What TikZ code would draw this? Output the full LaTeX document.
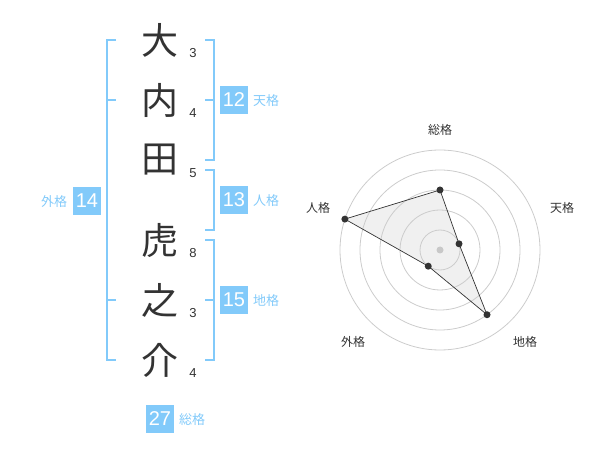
\documentclass[tikz,border=0pt]{standalone}
\usepackage{fontspec}
\setmainfont{Liberation Sans}
\newfontfamily\jp{Noto Sans CJK JP}
\usetikzlibrary{calc}
\definecolor{ink}{HTML}{333333}
\definecolor{sky}{HTML}{82CAFA}
\definecolor{ring}{HTML}{CCCCCC}
\definecolor{area}{HTML}{F0F0F0}
\definecolor{hub}{HTML}{C8C8C8}
\tikzset{
  brk/.style={draw=sky, line width=2pt},
  kanji/.style={text=ink, inner sep=0pt, font=\jp\fontsize{37}{40}\selectfont},
  strokes/.style={text=ink, inner sep=0pt, font=\fontsize{13}{15}\selectfont},
  score/.style={fill=sky, text=white, minimum size=28pt, inner sep=0pt, font=\fontsize{20}{22}\selectfont},
  kaku/.style={text=sky, inner sep=0pt, font=\jp\fontsize{13}{15}\selectfont},
  grid/.style={draw=ring, line width=0.8pt},
  web/.style={draw=ink, line width=0.7pt},
  pt/.style={circle, fill=ink, inner sep=0pt, minimum size=7pt},
  axis/.style={text=ink, inner sep=0pt, font=\jp\fontsize{12}{14}\selectfont}
}
\begin{document}
\begin{tikzpicture}[x=1pt, y=-1pt]
  \useasboundingbox (0,0) rectangle (600,470);

  % name
  \node[kanji] (k1) at (160,40) {大};
  \node[kanji] (k2) at (160,100) {内};
  \node[kanji] (k3) at (160,160) {田};
  \node[kanji] (k4) at (160,240) {虎};
  \node[kanji] (k5) at (160,300) {之};
  \node[kanji] (k6) at (160,360) {介};
  \node[strokes] (s1) at (193,53) {3};
  \node[strokes] (s2) at (193,113) {4};
  \node[strokes] (s3) at (193,173) {5};
  \node[strokes] (s4) at (193,253) {8};
  \node[strokes] (s5) at (193,313) {3};
  \node[strokes] (s6) at (193,373) {4};

  % brackets
  \draw[brk] (116,40) -- (107,40) -- (107,360) -- (116,360);
  \draw[brk] (107,100) -- (116,100);
  \draw[brk] (107,300) -- (116,300);
  \draw[brk] (205,40) -- (214,40) -- (214,160) -- (205,160);
  \draw[brk] (214,100) -- (205,100);
  \draw[brk] (205,170) -- (214,170) -- (214,230) -- (205,230);
  \draw[brk] (205,240) -- (214,240) -- (214,360) -- (205,360);
  \draw[brk] (214,300) -- (205,300);

  % scores
  \node[score] (ten) at (234,100) {12};
  \node[kaku] (tenL) at (266,101) {天格};
  \node[score] (jin) at (234,200) {13};
  \node[kaku] (jinL) at (266,201) {人格};
  \node[score] (chi) at (234,300) {15};
  \node[kaku] (chiL) at (266,301) {地格};
  \node[score] (gai) at (87,201) {14};
  \node[kaku] (gaiL) at (54,202) {外格};
  \node[score] (sou) at (160,419) {27};
  \node[kaku] (souL) at (192,420) {総格};

  % radar
  \begin{scope}[shift={(440,250)}, y=1pt]
    \coordinate (O) at (0,0);
    \coordinate (vS) at (90:60);
    \coordinate (vT) at (18:20);
    \coordinate (vC) at (-54:80);
    \coordinate (vG) at (-126:20);
    \coordinate (vJ) at (162:100);
    \fill[area] (vS) -- (vT) -- (vC) -- (vG) -- (vJ) -- cycle;
    \draw[grid] (O) circle (20) (O) circle (40) (O) circle (60) (O) circle (80) (O) circle (100);
    \draw[web] (vS) -- (vT) -- (vC) -- (vG) -- (vJ) -- cycle;
    \node[pt, fill=hub] (hub) at (O) {};
    \node[pt] (pS) at (vS) {};
    \node[pt] (pT) at (vT) {};
    \node[pt] (pC) at (vC) {};
    \node[pt] (pG) at (vG) {};
    \node[pt] (pJ) at (vJ) {};
    \node[axis] (aS) at (0,120) {総格};
    \node[axis] (aT) at (122,42) {天格};
    \node[axis] (aC) at (85,-92) {地格};
    \node[axis] (aG) at (-87,-92) {外格};
    \node[axis] (aJ) at (-122,42) {人格};
  \end{scope}
\end{tikzpicture}
\end{document}
